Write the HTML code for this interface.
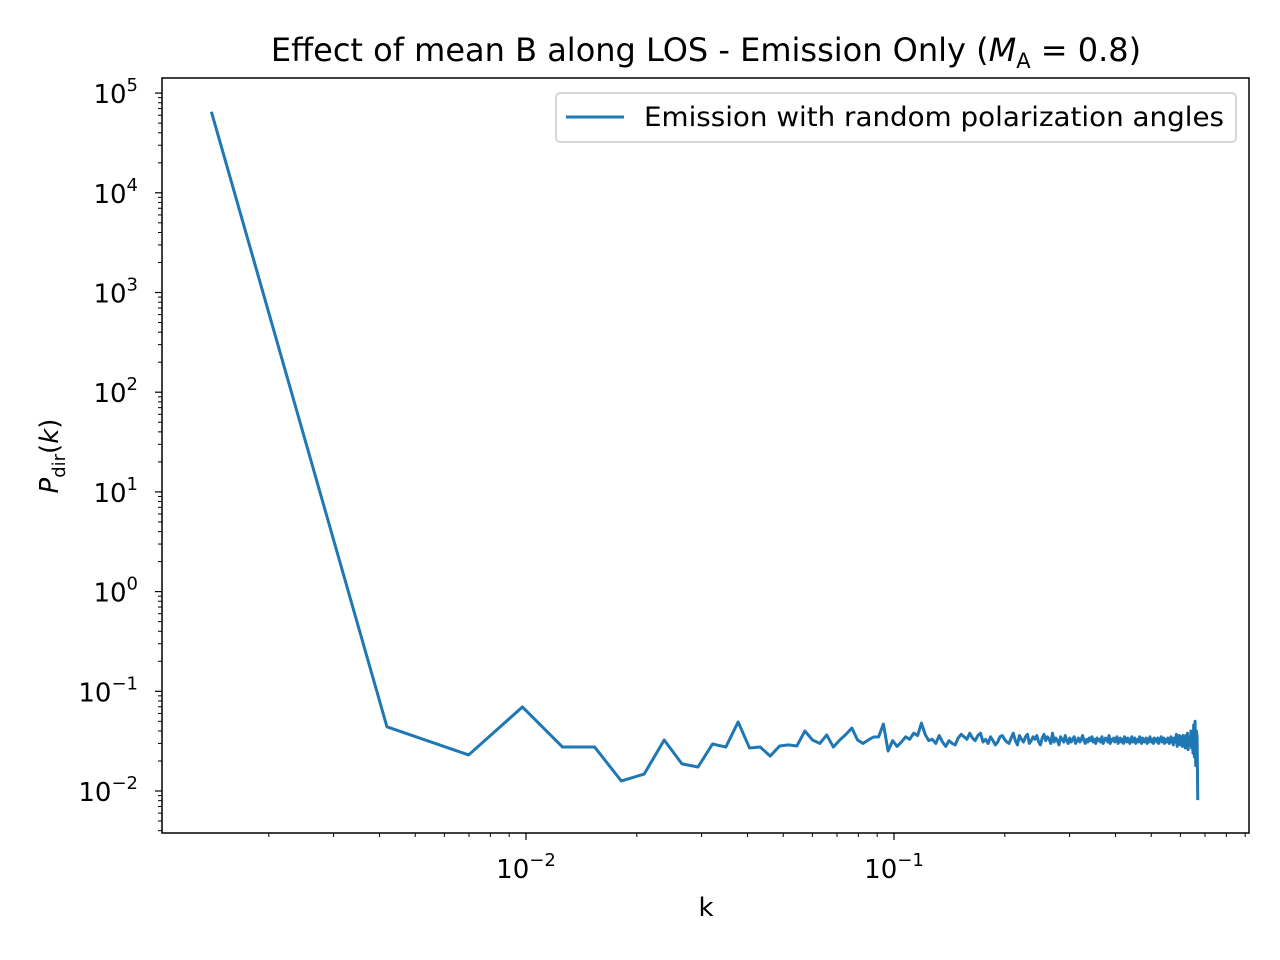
<!DOCTYPE html>
<html><head><meta charset="utf-8"><style>
body{margin:0;background:#fff;}
svg{display:block;font-family:"DejaVu Sans","Liberation Sans",sans-serif;}
</style></head><body>
<svg id="chart" width="1280" height="960" xmlns="http://www.w3.org/2000/svg"></svg>
<script>
const N = 358;
const headValues = [65000, 0.044, 0.023, 0.0696, 0.0276, 0.0276, 0.0126, 0.0148, 0.0325, 0.0187,
 0.0174, 0.0296, 0.0276, 0.0493, 0.027, 0.0276, 0.0224, 0.0283, 0.029, 0.0283,
 0.040, 0.0325, 0.030, 0.0365, 0.0276, 0.0325, 0.037, 0.0428, 0.0325, 0.030,
 0.0325, 0.0348, 0.0348, 0.047, 0.0252, 0.032, 0.028];
const tailValues = [0.031,0.035,0.033,0.038,0.036,0.048,0.037,0.032,0.033,0.030,
 0.036,0.031,0.028,0.032,0.030,0.029,0.034,0.037,0.035,0.033,
 0.038,0.034,0.032,0.036,0.038,0.031,0.033,0.030,0.035,0.032,
 0.029,0.031,0.035,0.036,0.033,0.031,0.030,0.034,0.038,0.032,
 0.029,0.036,0.033,0.031,0.035,0.037,0.030,0.032,0.035,0.033,
 0.036,0.031,0.029,0.034,0.037,0.032,0.035,0.033,0.030,0.038,
 0.031,0.034,0.032,0.029,0.035,0.033,0.031,0.036,0.032,0.030,
 0.034,0.031,0.033,0.035,0.030,0.032,0.034,0.031,0.033,0.036,
 0.032,0.030,0.033,0.031,0.034,0.032,0.035,0.031,0.033,0.030,
 0.034,0.032,0.033,0.031,0.035,0.030,0.032,0.034,0.033,0.031,
 0.036,0.030,0.033,0.032,0.034,0.031,0.033,0.035,0.030,0.032,
 0.034,0.031,0.033,0.030,0.035,0.032,0.031,0.034,0.033,0.030,
 0.032,0.035,0.031,0.033,0.034,0.030,0.032,0.033,0.031,0.035,
 0.032,0.030,0.034,0.033,0.031,0.032,0.034,0.030,0.033,0.031,
 0.035,0.032,0.031,0.033,0.030,0.034,0.032,0.033,0.031,0.034,
 0.030,0.033,0.032,0.035,0.031,0.032,0.034,0.030,0.033,0.032,
 0.031,0.034,0.032,0.030,0.033,0.035,0.031,0.032,0.029,0.034,
 0.033,0.031,0.037,0.028,0.034,0.030,0.036,0.029,0.035,0.031,
 0.028,0.036,0.030,0.034,0.027,0.036,0.031,0.038,0.026,0.035,
 0.032,0.029,0.040,0.027,0.037,0.024,0.046,0.022,0.050,0.018,
 0.040,0.035,0.0081];
const values = headValues.concat(tailValues);
const xTickExps = [-2, -1];
const yTickExps = [-2, -1, 0, 1, 2, 3, 4, 5];
const legendLabel = "Emission with random polarization angles";

const svg = document.getElementById('chart');
const NS = 'http://www.w3.org/2000/svg';
const L = 162, R = 1249, T = 78, B = 833;
const xDec = 368, x0 = 526;
const yDec = 99.7, y0 = 791;
function X(k){ return x0 + xDec*(Math.log10(k) + 2); }
function Y(v){ return y0 - yDec*(Math.log10(v) + 2); }
function mk(tag, attrs, parent){ const e=document.createElementNS(NS,tag); for(const a in attrs) e.setAttribute(a, attrs[a]); (parent||svg).appendChild(e); return e; }

let d = '';
values.forEach((v,i)=>{ const k=(i+0.5)/N; d += (i?'L':'M') + X(k).toFixed(2) + ',' + Y(v).toFixed(2); });
const line = mk('path', {d:d, fill:'none', stroke:'#1f77b4', 'stroke-width':3, 'stroke-linejoin':'round'});



const frame = mk('rect', {x:L, y:T, width:R-L, height:B-T, fill:'none', stroke:'#000', 'stroke-width':1.5});



for (let e=-3; e<=0; e++){
  for (let m=1; m<10; m++){
    const k = m*Math.pow(10,e); const x = X(k);
    if (x < L || x > R) continue;
    const major = (m===1);
    const t = mk('line', {x1:x, x2:x, y1:B, y2:B+(major?7:4), stroke:'#000', 'stroke-width':major?1.2:1});
    
    
  }
}
xTickExps.forEach(e=>{
  const tx = mk('text', {x:X(Math.pow(10,e)), y:B+45, 'font-size':26, 'text-anchor':'middle'});
  tx.innerHTML = '10<tspan dy="-12" font-size="18">\u2212' + Math.abs(e) + '</tspan>';
  
  
});
for (let e=-3; e<=5; e++){
  for (let m=1; m<10; m++){
    const v = m*Math.pow(10,e); const y = Y(v);
    if (y < T || y > B) continue;
    const major = (m===1);
    const t = mk('line', {x1:L, x2:L-(major?7:4), y1:y, y2:y, stroke:'#000', 'stroke-width':major?1.2:1});
    
    
  }
}
yTickExps.forEach(e=>{
  const tx = mk('text', {x:L-24, y:Y(Math.pow(10,e))+10, 'font-size':26, 'text-anchor':'end'});
  tx.innerHTML = '10<tspan dy="-12" font-size="18">' + (e<0?'\u2212'+Math.abs(e):e) + '</tspan>';
  
  
});

const title = mk('text', {x:706, y:61, 'font-size':32, 'text-anchor':'middle'});
title.innerHTML = 'Effect of mean B along LOS - Emission Only (<tspan font-style="italic">M</tspan><tspan font-size="21" dy="7">A</tspan><tspan dy="-7"> = 0.8)</tspan>';



const xl = mk('text', {x:706, y:916, 'font-size':26, 'text-anchor':'middle'});
xl.textContent = 'k';


const yl = mk('text', {x:0, y:0, 'font-size':26, 'text-anchor':'middle', transform:'translate(58,456) rotate(-90)'});
yl.innerHTML = '<tspan font-style="italic">P</tspan><tspan font-size="18" dy="7">dir</tspan><tspan dy="-7">(</tspan><tspan font-style="italic">k</tspan>)';



const lg = mk('g', {});


mk('rect', {x:556, y:93, width:680, height:49, rx:4, fill:'#fff', stroke:'#ccc', 'stroke-width':1.5}, lg);
const ll = mk('line', {x1:566, x2:624, y1:117, y2:117, stroke:'#1f77b4', 'stroke-width':3}, lg);


const lt = mk('text', {x:644, y:126, 'font-size':27, textLength:580, lengthAdjust:'spacingAndGlyphs'}, lg);
lt.textContent = legendLabel;


</script>
</body></html>
